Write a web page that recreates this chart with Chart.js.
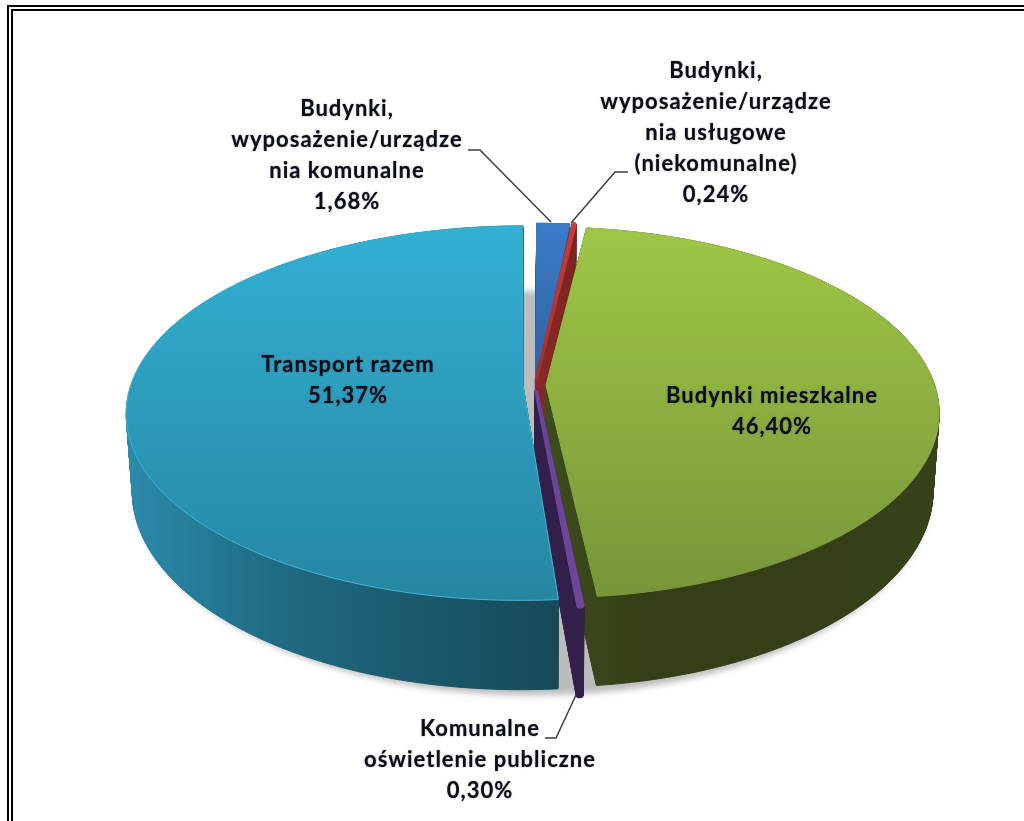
<!DOCTYPE html>
<html>
<head>
<meta charset="utf-8">
<script src="https://cdn.jsdelivr.net/npm/chart.js@4/dist/chart.umd.min.js"></script>
<style>
  html, body { margin: 0; background: #fff; }
  #wrap { position: relative; width: 1024px; height: 821px; overflow: hidden; }
  .rule { position: absolute; background: #000; }
</style>
</head>
<body>
<div id="wrap">
  <div class="rule" style="left:7px;top:5px;width:1017px;height:2px"></div>
  <div class="rule" style="left:7px;top:5px;width:2px;height:816px"></div>
  <div class="rule" style="left:11px;top:9px;width:1013px;height:2px"></div>
  <div class="rule" style="left:11px;top:9px;width:2px;height:812px"></div>
  <canvas id="pie" width="1024" height="821" style="position:absolute;left:0;top:0"></canvas>
</div>
<script>
// Data, clockwise from 12 o'clock
const categories = [
    ['Budynki,', 'wyposażenie/urządze', 'nia komunalne'],
    ['Budynki,', 'wyposażenie/urządze', 'nia usługowe', '(niekomunalne)'],
    ['Budynki mieszkalne'],
    ['Komunalne', 'oświetlenie publiczne'],
    ['Transport razem']
];
const values = [1.68, 0.24, 46.40, 0.30, 51.37];

// Label layout (centre x, first line y) and leader lines
const labelX = [347, 716, 772, 480, 348];
const labelY = [109, 71, 396, 729, 365];
const leaders = [
    [[468, 150], [480, 150], [551, 222]],
    [[628, 172], [615, 172], [571, 223]],
    [[545, 738], [556, 738], [576, 695]]
];

// 3D look: the flat pie is pushed through a perspective projection
const centerX = 535, centerY = 385;
const normR = 392, persp = 0.149, tilt = 183, depth = 76, shrink = 0.015;

const canvas = document.getElementById('pie');
const ctx = canvas.getContext('2d');

function grad(x0, y0, x1, y1, stops) {
    const g = ctx.createLinearGradient(x0, y0, x1, y1);
    stops.forEach((c, i) => g.addColorStop(i / (stops.length - 1), c));
    return g;
}

const topColors = [
    grad(0, 224, 0, 400, ['#3b7bc9', '#2f5f9c']),
    grad(0, 224, 0, 400, ['#cf3a35', '#9c2e2b']),
    grad(0, 228, 0, 597, ['#9fc746', '#789539']),
    grad(0, 390, 0, 605, ['#6a4496', '#6f479c']),
    grad(0, 227, 0, 598, ['#33b0d3', '#2686a2'])
];
const rimColors = [
    topColors[0], topColors[1], topColors[2], topColors[3],
    grad(0, 227, 0, 598, ['#33b0d3', '#41b8da'])
];
const wallColors = [
    grad(530, 0, 580, 0, ['#2a5488', '#244a78']),
    grad(530, 0, 580, 0, ['#8c2a28', '#7a2422']),
    grad(545, 0, 940, 0, ['#3d4c1d', '#353f17', '#343f17', '#343f17', '#36421a']),
    grad(540, 0, 590, 0, ['#33204a', '#33204a']),
    grad(127, 0, 560, 0, ['#2b8bab', '#206c84', '#1b5a6d', '#164858'])
];

function project(chart, x, y, z) {
    const a = chart.getDatasetMeta(0).data[0];
    const v = (y - a.y) / normR;
    const w = 1 - persp * v;
    return {
        x: centerX + (x - a.x) / w * (1 - shrink * z),
        y: centerY + (tilt * v + depth * z) / w
    };
}

// Hands the arc element a context that runs its path through project()
function projectedCtx(chart, target, z, wallFill) {
    let tx = 0, ty = 0;
    const stack = [];
    const own = {
        save() { stack.push([tx, ty]); target.save(); },
        restore() { [tx, ty] = stack.pop(); target.restore(); },
        translate(x, y) { tx += x; ty += y; },
        moveTo(x, y) { const p = project(chart, x + tx, y + ty, z); target.moveTo(p.x, p.y); },
        lineTo(x, y) { const p = project(chart, x + tx, y + ty, z); target.lineTo(p.x, p.y); },
        arc(x, y, r, a0, a1) {
            const n = Math.max(2, Math.ceil(Math.abs(a1 - a0) / 0.01));
            for (let i = 0; i <= n; i++) {
                const t = a0 + (a1 - a0) * i / n;
                own.lineTo(x + Math.cos(t) * r, y + Math.sin(t) * r);
            }
        }
    };
    return new Proxy(target, {
        get(t, k) {
            if (k in own) return own[k];
            const v = t[k];
            return typeof v === 'function' ? v.bind(t) : v;
        },
        set(t, k, v) {
            if ((k === 'fillStyle' || k === 'strokeStyle') && wallFill) v = wallFill;
            t[k] = v;
            return true;
        }
    });
}

const pie3d = {
    id: 'pie3d',
    beforeDatasetDraw(chart) {
        const c = chart.ctx;
        const arcs = chart.getDatasetMeta(0).data;

        // soft shadow on the ground, also seen through the gaps
        c.save();
        c.filter = 'blur(3px)';
        c.fillStyle = '#bcbcbc';
        c.beginPath();
        for (let t = 0; t < 6.29; t += 0.01) {
            const p = project(chart, arcs[0].x - 2 + Math.cos(t) * 398, arcs[0].y + Math.sin(t) * 398, 1.02);
            c.lineTo(p.x, p.y);
        }
        c.closePath();
        c.fill();
        c.restore();

        // side walls: stacked layers from the bottom up
        for (let z = 1; z > 0; z -= 1 / 110) {
            arcs.forEach((arc, i) => arc.draw(projectedCtx(chart, c, z, wallColors[i])));
        }
        // top faces
        arcs.forEach(arc => arc.draw(projectedCtx(chart, c, 0, null)));
        return false;
    },
    afterDraw(chart) {
        const c = chart.ctx;
        c.save();
        c.strokeStyle = '#3f3f3f';
        c.lineWidth = 1.5;
        leaders.forEach(line => {
            c.beginPath();
            line.forEach(p => c.lineTo(p[0], p[1]));
            c.stroke();
        });
        c.font = 'bold 22px Lato';
        c.letterSpacing = '1px';
        c.fillStyle = '#0d0d14';
        c.shadowColor = 'rgba(20,20,70,0.55)';
        c.shadowBlur = 1.5;
        c.textAlign = 'center';
        c.textBaseline = 'middle';
        categories.forEach((lines, i) => {
            const text = lines.concat(values[i].toFixed(2).replace('.', ',') + '%');
            text.forEach((t, j) => c.fillText(t, labelX[i], labelY[i] + j * 31));
        });
        c.restore();
    }
};

new Chart(ctx, {
    type: 'pie',
    data: {
        labels: categories.map(l => l.join(' ')),
        datasets: [{
            data: values,
            backgroundColor: topColors,
            borderColor: rimColors,
            borderWidth: [1, 3, 1, 4, 1],
            offset: [40, 40, 44, 48, 48],
            radius: 380
        }]
    },
    options: {
        responsive: false,
        animation: false,
        events: [],
        plugins: { legend: { display: false }, tooltip: { enabled: false } }
    },
    plugins: [pie3d]
});
</script>
</body>
</html>
